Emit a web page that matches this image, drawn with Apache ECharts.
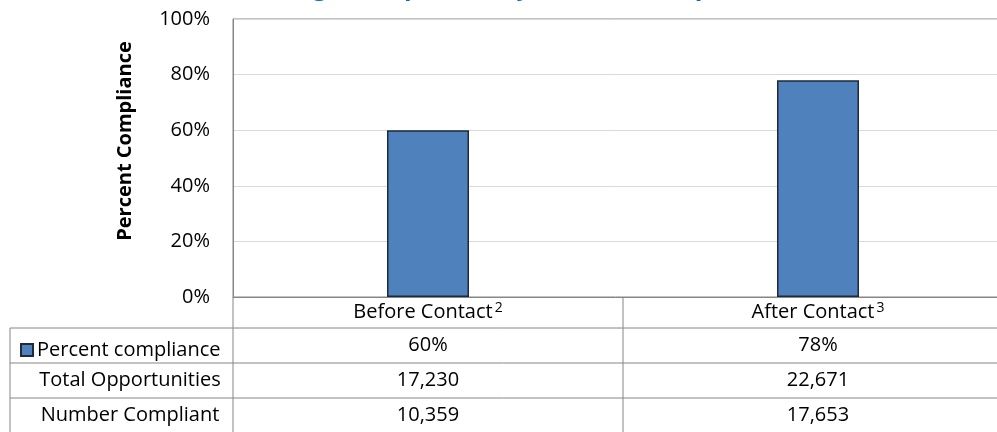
<!DOCTYPE html>
<html><head><meta charset="utf-8">
<script src="https://cdn.jsdelivr.net/npm/echarts@6/dist/echarts.min.js"></script>
<style>html,body{margin:0;padding:0;background:#fff}#c{width:997px;height:432px}</style>
</head><body><div id="c"></div>
<script>
var titleText = 'Average Compliance by Indication, April 2013';
var categories = ['Before Contact', 'After Contact'];
var superscripts = ['2', '3'];
var seriesName = 'Percent compliance';
var percentCompliance = [60, 78];
var totalOpportunities = ['17,230', '22,671'];
var numberCompliant = ['10,359', '17,653'];
var rowLabels = ['Total Opportunities', 'Number Compliant'];
var yTicks = [0, 20, 40, 60, 80, 100];

var FONT = 'Open Sans';
var FS = 20;
var AX = '#868686';
var chart = echarts.init(document.getElementById('c'));

function rowAxis(values, margin) {
  return {
    type: 'category', gridIndex: 0, position: 'bottom', data: categories,
    axisLine: {show: false}, axisTick: {show: false}, splitLine: {show: false},
    axisLabel: {margin: margin, verticalAlign: 'middle', color: '#000', fontFamily: FONT, fontSize: FS,
      formatter: function (v) { return values[categories.indexOf(v)]; }}
  };
}

var lines = [
  [10, 328, 997, 328], [10, 363, 997, 363], [10, 398, 997, 398],
  [10, 328, 10, 432], [233, 297, 233, 432], [623, 297, 623, 432]
];
var graphics = lines.map(function (l) {
  return {type: 'line', shape: {x1: l[0], y1: l[1], x2: l[2], y2: l[3]}, style: {stroke: AX, lineWidth: 1}, silent: true};
});
graphics.push({type: 'text', x: 125, y: 141, rotation: Math.PI / 2,
  style: {text: 'Percent Compliance', fontFamily: FONT, fontSize: FS, fontWeight: 'bold', fill: '#000', textAlign: 'center', textVerticalAlign: 'middle'}});
rowLabels.forEach(function (t, i) {
  graphics.push({type: 'text', x: 130, y: 380.5 + i * 35,
    style: {text: t, fontFamily: FONT, fontSize: FS, fill: '#000', textAlign: 'center', textVerticalAlign: 'middle'}});
});
graphics.push({type: 'text', x: 240, y: 0,
  style: {text: titleText, fontFamily: FONT, fontSize: 25, fontWeight: 'bold', fill: '#0070C0', textAlign: 'left', textVerticalAlign: 'bottom'}});

chart.setOption({
  animation: false,
  grid: {left: 233, top: 19, width: 780, height: 278, show: true, borderColor: AX, borderWidth: 1,
    containLabel: false, outerBoundsMode: 'none'},
  legend: {
    data: [seriesName], left: 15, top: 335, icon: 'rect', itemWidth: 12, itemHeight: 12, itemGap: 0,
    textStyle: {fontFamily: FONT, fontSize: FS, color: '#000', padding: [0, 0, 0, -1]}
  },
  xAxis: [
    {
      type: 'category', data: categories,
      axisLine: {lineStyle: {color: AX}}, axisTick: {show: false},
      axisLabel: {margin: 15, verticalAlign: 'middle', color: '#000', fontFamily: FONT, fontSize: FS,
        formatter: function (v) { return v + '{s|' + superscripts[categories.indexOf(v)] + '}'; },
        rich: {s: {fontFamily: FONT, fontSize: 14, verticalAlign: 'top', padding: [0, 0, 8, 2]}}}
    },
    rowAxis(percentCompliance.map(function (v) { return v + '%'; }), 48.5),
    rowAxis(totalOpportunities, 83.5),
    rowAxis(numberCompliant, 118)
  ],
  yAxis: {
    type: 'value', min: 0, max: 100, interval: 20,
    axisLine: {show: true, lineStyle: {color: AX}}, axisTick: {show: false},
    splitLine: {lineStyle: {color: '#d9d9d9'}},
    axisLabel: {margin: 23, color: '#000', fontFamily: FONT, fontSize: FS,
      formatter: function (v) { return yTicks.indexOf(v) >= 0 ? v + '%' : ''; }}
  },
  series: [{
    name: seriesName, type: 'bar', data: percentCompliance, barWidth: 82,
    itemStyle: {color: '#4F81BD', borderColor: '#1c2a3a', borderWidth: 1.5}
  }],
  graphic: graphics
});
</script></body></html>
